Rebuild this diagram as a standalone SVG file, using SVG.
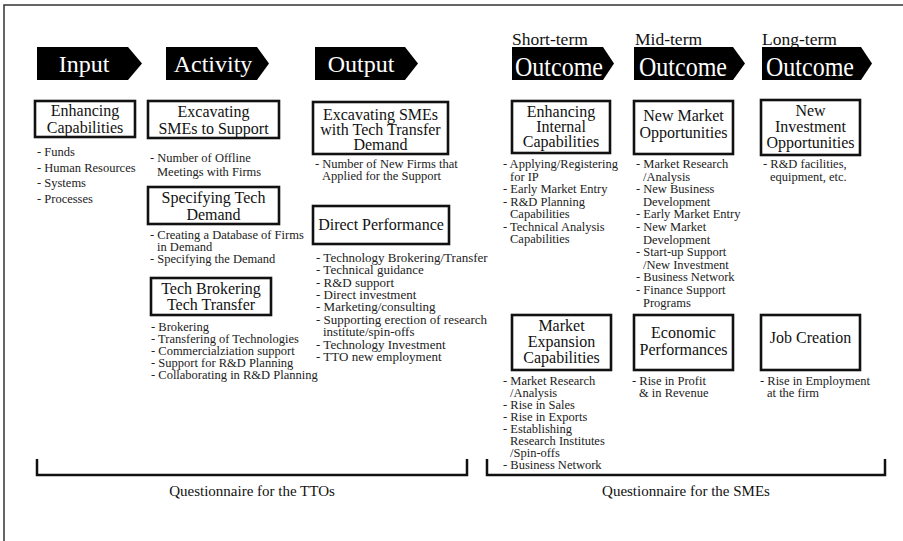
<svg xmlns="http://www.w3.org/2000/svg" width="903" height="541" viewBox="0 0 903 541">
<style>
.frame{fill:none;stroke:#333;stroke-width:1.5}
.arrow{fill:#000}
.at{fill:#fff;font-family:"Liberation Serif","Times New Roman",serif;font-size:24px;text-anchor:middle}
.ot{fill:#fff;font-family:"Liberation Serif","Times New Roman",serif;font-size:28px;text-anchor:middle}
.term{fill:#111;font-family:"Liberation Serif","Times New Roman",serif;font-size:17.5px}
.box{fill:#fff;stroke:#111;stroke-width:2.6}
.bt{fill:#111;font-family:"Liberation Serif","Times New Roman",serif;font-size:16px;text-anchor:middle}
.li{fill:#222;font-family:"Liberation Serif","Times New Roman",serif;font-size:12.5px}
.lb{fill:#222;font-family:"Liberation Serif","Times New Roman",serif;font-size:13px}
.br{fill:none;stroke:#111;stroke-width:2.5}
.q{fill:#111;font-family:"Liberation Serif","Times New Roman",serif;font-size:15px;text-anchor:middle}
</style>
<rect width="903" height="541" fill="#fff"/>
<path class="frame" d="M4,541 V5 H903"/>

<g id="stages">
  <g id="stage-input">
    <polygon class="arrow" points="37,47 128,47 142,63.5 128,80 37,80"/>
    <text class="at" x="84" y="72">Input</text>
  </g>
  <g id="stage-activity">
    <polygon class="arrow" points="166,47 257,47 269,63.5 257,80 166,80"/>
    <text class="at" x="213" y="72">Activity</text>
  </g>
  <g id="stage-output">
    <polygon class="arrow" points="315,47 405,47 418,63.5 405,80 315,80"/>
    <text class="at" x="361" y="72">Output</text>
  </g>
  <g id="stage-short">
    <text class="term" x="512" y="45">Short-term</text>
    <polygon class="arrow" points="512,47 603,47 614,63.5 603,80 512,80"/>
    <text class="ot" x="559" y="76" textLength="88" lengthAdjust="spacingAndGlyphs">Outcome</text>
  </g>
  <g id="stage-mid">
    <text class="term" x="635" y="45">Mid-term</text>
    <polygon class="arrow" points="634,47 733,47 745,63.5 733,80 634,80"/>
    <text class="ot" x="683" y="76" textLength="88" lengthAdjust="spacingAndGlyphs">Outcome</text>
  </g>
  <g id="stage-long">
    <text class="term" x="762" y="45">Long-term</text>
    <polygon class="arrow" points="762,47 861,47 872,63.5 861,80 762,80"/>
    <text class="ot" x="810" y="76" textLength="88" lengthAdjust="spacingAndGlyphs">Outcome</text>
  </g>
</g>

<g id="n-enhancing-capabilities">
  <rect class="box" x="35" y="101" width="100" height="36"/>
  <text class="bt" x="85" y="116">Enhancing</text>
  <text class="bt" x="85" y="133">Capabilities</text>
  <text class="li" x="37" y="156">- Funds</text>
  <text class="li" x="37" y="171.5">- Human Resources</text>
  <text class="li" x="37" y="187">- Systems</text>
  <text class="li" x="37" y="202.5">- Processes</text>
</g>

<g id="n-excavating-smes">
  <rect class="box" x="148" y="101" width="131" height="37"/>
  <text class="bt" x="213.5" y="117">Excavating</text>
  <text class="bt" x="213.5" y="134">SMEs to Support</text>
  <text class="li" x="150" y="162">- Number of Offline</text>
  <text class="li" x="157" y="176">Meetings with Firms</text>
</g>

<g id="n-specifying-demand">
  <rect class="box" x="148" y="187" width="131" height="37"/>
  <text class="bt" x="213.5" y="203">Specifying Tech</text>
  <text class="bt" x="213.5" y="220">Demand</text>
  <text class="li" x="150" y="239">- Creating a Database of Firms</text>
  <text class="li" x="157" y="251">in Demand</text>
  <text class="li" x="150" y="263">- Specifying the Demand</text>
</g>

<g id="n-tech-brokering">
  <rect class="box" x="151" y="278" width="120" height="37"/>
  <text class="bt" x="211" y="294">Tech Brokering</text>
  <text class="bt" x="211" y="310">Tech Transfer</text>
  <text class="li" x="151" y="331">- Brokering</text>
  <text class="li" x="151" y="343">- Transfering of Technologies</text>
  <text class="li" x="151" y="355">- Commercialziation support</text>
  <text class="li" x="151" y="367">- Support for R&amp;D Planning</text>
  <text class="li" x="151" y="379">- Collaborating in R&amp;D Planning</text>
</g>

<g id="n-excavating-demand">
  <rect class="box" x="313" y="102" width="135" height="52"/>
  <text class="bt" x="380.5" y="120">Excavating SMEs</text>
  <text class="bt" x="380.5" y="135">with Tech Transfer</text>
  <text class="bt" x="380.5" y="150">Demand</text>
  <text class="li" x="315" y="168">- Number of New Firms that</text>
  <text class="li" x="322" y="180">Applied for the Support</text>
</g>

<g id="n-direct-performance">
  <rect class="box" x="313" y="206" width="136" height="38"/>
  <text class="bt" x="381" y="230">Direct Performance</text>
  <text class="lb" x="316" y="262">- Technology Brokering/Transfer</text>
  <text class="lb" x="316" y="274">- Technical guidance</text>
  <text class="lb" x="316" y="287">- R&amp;D support</text>
  <text class="lb" x="316" y="299">- Direct investment</text>
  <text class="lb" x="316" y="311">- Marketing/consulting</text>
  <text class="lb" x="316" y="324">- Supporting erection of research</text>
  <text class="lb" x="323" y="336">institute/spin-offs</text>
  <text class="lb" x="316" y="349">- Technology Investment</text>
  <text class="lb" x="316" y="361">- TTO new employment</text>
</g>

<g id="n-internal-capabilities">
  <rect class="box" x="512" y="101" width="98" height="52"/>
  <text class="bt" x="561" y="117">Enhancing</text>
  <text class="bt" x="561" y="132">Internal</text>
  <text class="bt" x="561" y="147">Capabilities</text>
  <text class="li" x="503" y="168">- Applying/Registering</text>
  <text class="li" x="510" y="180.5">for IP</text>
  <text class="li" x="503" y="193">- Early Market Entry</text>
  <text class="li" x="503" y="205.5">- R&amp;D Planning</text>
  <text class="li" x="510" y="218">Capabilities</text>
  <text class="li" x="503" y="230.5">- Technical Analysis</text>
  <text class="li" x="510" y="243">Capabilities</text>
</g>

<g id="n-new-market">
  <rect class="box" x="634" y="101" width="99" height="53"/>
  <text class="bt" x="683.5" y="121">New Market</text>
  <text class="bt" x="683.5" y="138">Opportunities</text>
  <text class="li" x="636" y="168">- Market Research</text>
  <text class="li" x="643" y="180.6">/Analysis</text>
  <text class="li" x="636" y="193.2">- New Business</text>
  <text class="li" x="643" y="205.8">Development</text>
  <text class="li" x="636" y="218.4">- Early Market Entry</text>
  <text class="li" x="636" y="231">- New Market</text>
  <text class="li" x="643" y="243.6">Development</text>
  <text class="li" x="636" y="256.2">- Start-up Support</text>
  <text class="li" x="643" y="268.8">/New Investment</text>
  <text class="li" x="636" y="281.4">- Business Network</text>
  <text class="li" x="636" y="294">- Finance Support</text>
  <text class="li" x="643" y="306.6">Programs</text>
</g>

<g id="n-new-investment">
  <rect class="box" x="761" y="100" width="99" height="55"/>
  <text class="bt" x="810.5" y="116">New</text>
  <text class="bt" x="810.5" y="132">Investment</text>
  <text class="bt" x="810.5" y="148">Opportunities</text>
  <text class="li" x="763" y="168">- R&amp;D facilities,</text>
  <text class="li" x="770" y="180.5">equipment, etc.</text>
</g>

<g id="n-market-expansion">
  <rect class="box" x="512" y="315" width="99" height="55"/>
  <text class="bt" x="561.5" y="331">Market</text>
  <text class="bt" x="561.5" y="347">Expansion</text>
  <text class="bt" x="561.5" y="363">Capabilities</text>
  <text class="li" x="503" y="385">- Market Research</text>
  <text class="li" x="510" y="397">/Analysis</text>
  <text class="li" x="503" y="409">- Rise in Sales</text>
  <text class="li" x="503" y="421">- Rise in Exports</text>
  <text class="li" x="503" y="433">- Establishing</text>
  <text class="li" x="510" y="445">Research Institutes</text>
  <text class="li" x="510" y="457">/Spin-offs</text>
  <text class="li" x="503" y="469">- Business Network</text>
</g>

<g id="n-economic-performances">
  <rect class="box" x="634" y="315" width="99" height="55"/>
  <text class="bt" x="683.5" y="338">Economic</text>
  <text class="bt" x="683.5" y="355">Performances</text>
  <text class="li" x="632" y="385">- Rise in Profit</text>
  <text class="li" x="639" y="397">&amp; in Revenue</text>
</g>

<g id="n-job-creation">
  <rect class="box" x="761" y="315" width="99" height="55"/>
  <text class="bt" x="810.5" y="343">Job Creation</text>
  <text class="li" x="760" y="385">- Rise in Employment</text>
  <text class="li" x="767" y="397">at the firm</text>
</g>

<g id="connectors">
  <path class="br" d="M37,459 V475 H467 V459"/>
  <path class="br" d="M487,459 V475 H885 V459"/>
</g>
<g id="labels">
  <text class="q" x="252" y="496">Questionnaire for the TTOs</text>
  <text class="q" x="686" y="496">Questionnaire for the SMEs</text>
</g>
</svg>
